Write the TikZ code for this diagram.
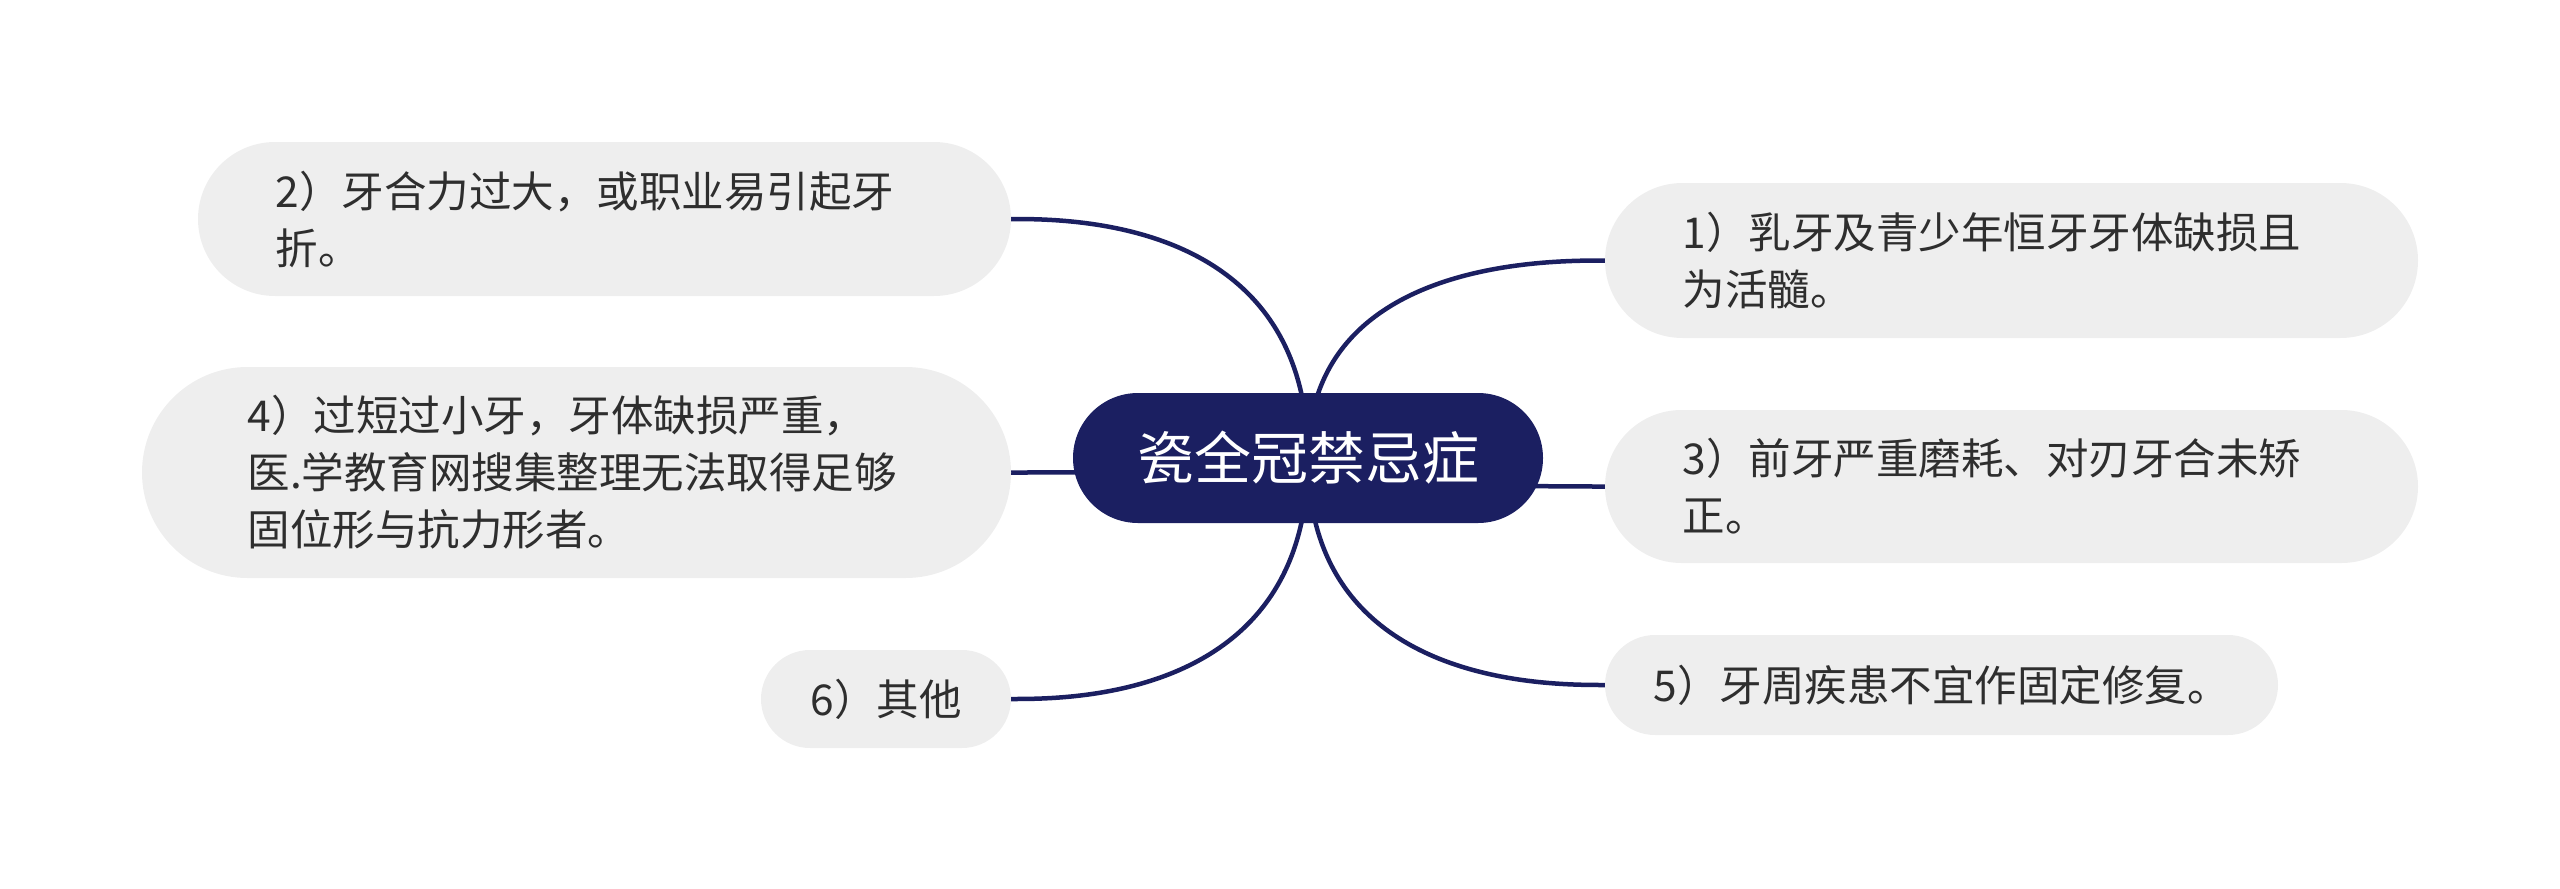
\documentclass[tikz,border=0pt]{standalone}
\usepackage{fontspec}
\setmainfont{Noto Sans CJK SC}
\usetikzlibrary{calc,backgrounds}
\definecolor{navy}{RGB}{27,31,97}
\definecolor{leafbg}{RGB}{238,238,238}
\definecolor{leaftext}{RGB}{46,46,46}
\tikzset{
  root/.style={fill=navy, text=white, inner sep=0pt, minimum width=470pt,
    minimum height=130pt, rounded corners=65pt, font=\fontsize{57}{68}\selectfont},
  leaf/.style={fill=leafbg, text=leaftext, inner sep=0pt, align=left,
    font=\fontsize{42.5}{57}\selectfont},
  wrapped/.style={text width=658pt},
  link/.style={draw=navy, line width=4.5pt},
}
\newcommand{\branch}[1]{%
  \draw[link] (c.center) .. controls (c.center |- #1.east) and ($(#1.east)!0.2!(#1.east -| c.center)$) .. (#1.east);}
\newcommand{\branchr}[1]{%
  \draw[link] (c.center) .. controls (c.center |- #1.west) and ($(#1.west)!0.2!(#1.west -| c.center)$) .. (#1.west);}
\begin{document}
\begin{tikzpicture}[x=1pt,y=-1pt]
\useasboundingbox (0,0) rectangle (2560,889);
\node[root] (c) at (1308,458) {瓷全冠禁忌症};
\node[leaf, wrapped, minimum width=813pt, minimum height=154pt, rounded corners=77pt] (b2) at (604.5,219) {2）牙合力过大，或职业易引起牙\\折。};
\node[leaf, wrapped, minimum width=869pt, minimum height=211pt, rounded corners=105.5pt] (b4) at (576.5,472.5) {4）过短过小牙，牙体缺损严重，\\医.学教育网搜集整理无法取得足够\\固位形与抗力形者。};
\node[leaf, minimum width=250pt, minimum height=98pt, rounded corners=49pt] (b6) at (886,699) {6）其他};
\node[leaf, wrapped, minimum width=813pt, minimum height=155pt, rounded corners=77.5pt] (b1) at (2011.5,260.5) {1）乳牙及青少年恒牙牙体缺损且\\为活髓。};
\node[leaf, wrapped, minimum width=813pt, minimum height=153pt, rounded corners=76.5pt] (b3) at (2011.5,486.5) {3）前牙严重磨耗、对刃牙合未矫\\正。};
\node[leaf, minimum width=673pt, minimum height=100pt, rounded corners=50pt] (b5) at (1941.5,685) {5）牙周疾患不宜作固定修复。};
\begin{pgfonlayer}{background}
\branch{b2}
\branch{b4}
\branch{b6}
\branchr{b1}
\branchr{b3}
\branchr{b5}
\end{pgfonlayer}
\end{tikzpicture}
\end{document}
